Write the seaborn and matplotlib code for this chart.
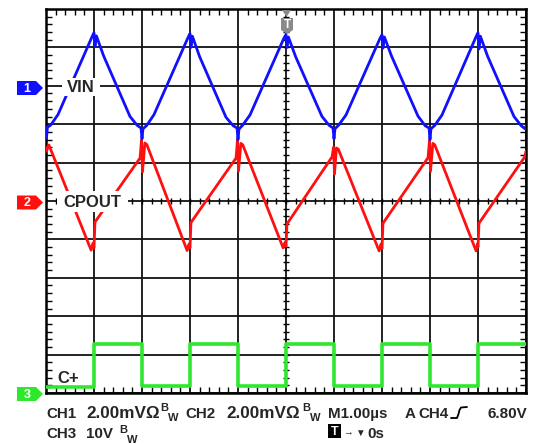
import numpy as np
import pandas as pd
import matplotlib
matplotlib.use("Agg")
import matplotlib.pyplot as plt
from matplotlib.transforms import Affine2D
from matplotlib.patches import Polygon, Rectangle
from matplotlib.lines import Line2D
import seaborn as sns

sns.set_style("white")
plt.rcParams["font.family"] = ["Liberation Sans", "DejaVu Sans"]
plt.rcParams["font.weight"] = "bold"

# ---- data (time in us, amplitude in screen divisions, 0 = centre) ----
vin_t = [-5.00, -4.99, -4.97, -4.90, -4.75,
         -4.04, -4.00, -3.98, -3.95, -3.80,
         -3.25, -3.10, -3.02, -3.00, -2.98, -2.90, -2.75,
         -2.04, -2.00, -1.98, -1.95, -1.80,
         -1.25, -1.10, -1.02, -1.00, -0.98, -0.90, -0.75,
         -0.04, 0.00, 0.02, 0.05, 0.20,
         0.75, 0.90, 0.98, 1.00, 1.02, 1.10, 1.25,
         1.96, 2.00, 2.02, 2.05, 2.20,
         2.75, 2.90, 2.98, 3.00, 3.02, 3.10, 3.25,
         3.96, 4.00, 4.02, 4.05, 4.20,
         4.75, 4.90, 4.98, 5.00]
vin_v = [1.90, 1.65, 1.92, 1.98, 2.25,
         4.28, 4.38, 4.02, 4.30, 3.78,
         2.20, 1.97, 1.90, 1.62, 1.88, 1.97, 2.25,
         4.26, 4.36, 4.00, 4.29, 3.76,
         2.18, 1.96, 1.90, 1.60, 1.87, 1.98, 2.24,
         4.25, 4.33, 4.00, 4.27, 3.76,
         2.20, 1.97, 1.90, 1.62, 1.88, 1.98, 2.24,
         4.24, 4.33, 3.98, 4.27, 3.77,
         2.21, 1.96, 1.90, 1.60, 1.88, 1.97, 2.24,
         4.28, 4.38, 3.96, 4.29, 3.77,
         2.20, 1.96, 1.88, 1.95]

cpout_t = [-5.00, -4.99, -4.94, -4.06, -4.02, -4.00, -3.98,
           -3.04, -3.01, -2.99, -2.94, -2.90, -2.06, -2.02, -2.00, -1.98,
           -1.04, -1.01, -0.99, -0.94, -0.90, -0.06, -0.02, 0.00, 0.02,
           0.96, 0.99, 1.01, 1.05, 1.09, 1.94, 1.98, 2.00, 2.02,
           2.96, 2.99, 3.01, 3.06, 3.10, 3.96, 3.99, 4.00, 4.02,
           4.97, 5.00]
cpout_v = [1.40, 1.30, 1.46, -1.28, -1.10, -1.22, -0.55,
           1.12, 1.59, 0.76, 1.51, 1.47, -1.29, -1.12, -1.22, -0.56,
           1.12, 1.60, 0.78, 1.50, 1.46, -1.22, -1.08, -1.18, -0.60,
           1.15, 1.40, 0.70, 1.38, 1.35, -1.30, -1.12, -1.24, -0.58,
           1.13, 1.58, 0.77, 1.50, 1.46, -1.30, -1.12, -1.20, -0.58,
           1.14, 1.30]

cplus_t = [-5, -4, -3, -2, -1, 0, 1, 2, 3, 4, 5]
cplus_v = [-4.84, -3.73, -4.82, -3.72, -4.82, -3.72, -4.83, -3.73, -4.83, -3.72, -3.72]

W, H = 535, 444
fig = plt.figure(figsize=(W / 100, H / 100), dpi=100)
fig.patch.set_facecolor("white")
ax = fig.add_axes([46 / W, (H - 393) / H, 480 / W, 384 / H])
px = Affine2D().scale(1, -1).translate(0, H).scale(1 / W, 1 / H) + fig.transFigure

ax.set_xlim(-5, 5)
ax.set_ylim(-5, 5)
ax.set_xticks(np.arange(-5, 6, 1))
ax.set_yticks(np.arange(-5, 6, 1))
ax.set_xticks(np.arange(-5, 5.01, 0.2), minor=True)
ax.set_yticks(np.arange(-5, 5.01, 0.2), minor=True)
ax.tick_params(which="major", length=0, labelbottom=False, labelleft=False)
ax.tick_params(which="minor", direction="in", length=4, width=1.0, color="black",
               top=True, right=True, bottom=True, left=True)
ax.grid(True, which="major", color="#111111", lw=1.3, zorder=1)
ax.set_axisbelow(True)
for s in ax.spines.values():
    s.set_color("black")
    s.set_linewidth(1.8)

# centre-line graticule ticks
mt = np.arange(-5, 5.01, 0.2)
ax.plot(mt, np.zeros_like(mt), ls="none", marker="|", ms=5, mew=1.0, color="black", zorder=2)
ax.plot(np.zeros_like(mt), mt, ls="none", marker="_", ms=5, mew=1.0, color="black", zorder=2)

BLUE, RED, GREEN = "#1010ff", "#ff1010", "#2ee82e"
sns.lineplot(x=vin_t, y=vin_v, sort=False, estimator=None, color=BLUE, lw=2.0, ax=ax, zorder=4)
sns.lineplot(x=cpout_t, y=cpout_v, sort=False, estimator=None, color=RED, lw=2.0, ax=ax, zorder=3)
sns.lineplot(x=cplus_t, y=cplus_v, sort=False, estimator=None, color=GREEN, lw=2.6,
             drawstyle="steps-post", ax=ax, zorder=3)
ax.set_xlabel("")
ax.set_ylabel("")

# trace labels with white boxes
for (x0, y0, x1, y1) in [(62, 78, 100, 96), (57, 191, 128, 212), (53, 369, 84, 385)]:
    fig.patches.append(Rectangle((x0, y0), x1 - x0, y1 - y0, transform=px,
                                 facecolor="white", edgecolor="none", zorder=10))
fig.text(67, 92, "VIN", transform=px, fontsize=12, fontweight="bold", va="baseline", zorder=11)
fig.text(63, 207, "CPOUT", transform=px, fontsize=12, fontweight="bold", va="baseline", zorder=11)
fig.text(57, 383, "C+", transform=px, fontsize=12, fontweight="bold", va="baseline", zorder=11)

# channel markers
def marker(yc, col, label):
    pts = [(17, yc - 7), (36, yc - 7), (43, yc), (36, yc + 7), (17, yc + 7)]
    fig.patches.append(Polygon(pts, closed=True, transform=px, facecolor=col,
                               edgecolor="none", zorder=10))
    fig.text(27, yc + 0.5, label, transform=px, color="white", fontsize=9,
             fontweight="bold", ha="center", va="center", zorder=11)

marker(88, BLUE, "1")
marker(202.5, RED, "2")
marker(394, GREEN, "3")

# trigger marker at top
GRAY = "#8a8a8a"
fig.patches.append(Polygon([(282, 10), (291, 10), (286.5, 17)], closed=True, transform=px,
                           facecolor=GRAY, edgecolor="none", zorder=10))
fig.patches.append(Polygon([(281, 18), (293, 18), (293, 30), (287, 34), (281, 30)], closed=True,
                           transform=px, facecolor=GRAY, edgecolor="none", zorder=10))
fig.text(287, 25.5, "T", transform=px, color="white", fontsize=8.5, fontweight="bold",
         ha="center", va="center", zorder=11)

# status text
FS, FSS = 10.9, 8
def t(x, y, s, fs=FS, **kw):
    fig.text(x, y, s, transform=px, fontsize=fs, fontweight="bold", va="baseline", **kw)

t(46, 418, "CH1")
t(86, 418, "2.00mV\u03A9", 12.3)
t(160, 411, "B", FSS)
t(168, 421, "W", FSS)
t(185, 418, "CH2")
t(226, 418, "2.00mV\u03A9", 12.3)
t(302, 411, "B", FSS)
t(310, 421, "W", FSS)
t(328, 418, "M1.00\u00B5s")
t(405, 418, "A")
t(418, 418, "CH4")
fig.lines.append(Line2D([451, 457, 458.5, 459.5, 461, 467], [418, 418, 414, 410, 407.5, 407],
                        transform=px, color="black", lw=1.3))
t(487, 418, "6.80V")

t(46, 438, "CH3")
t(86, 438, "10V")
t(119, 433, "B", FSS)
t(127, 443, "W", FSS)
fig.patches.append(Rectangle((328, 424), 13, 14, transform=px, facecolor="black",
                             edgecolor="none", zorder=10))
fig.text(334.5, 431.5, "T", transform=px, color="white", fontsize=9, fontweight="bold",
         ha="center", va="center", zorder=11)
t(343, 435, "\u2192", 7)
t(355, 436, "\u25BC", 7)
t(367, 438, "0s")

fig.savefig("out.png", dpi=100)
